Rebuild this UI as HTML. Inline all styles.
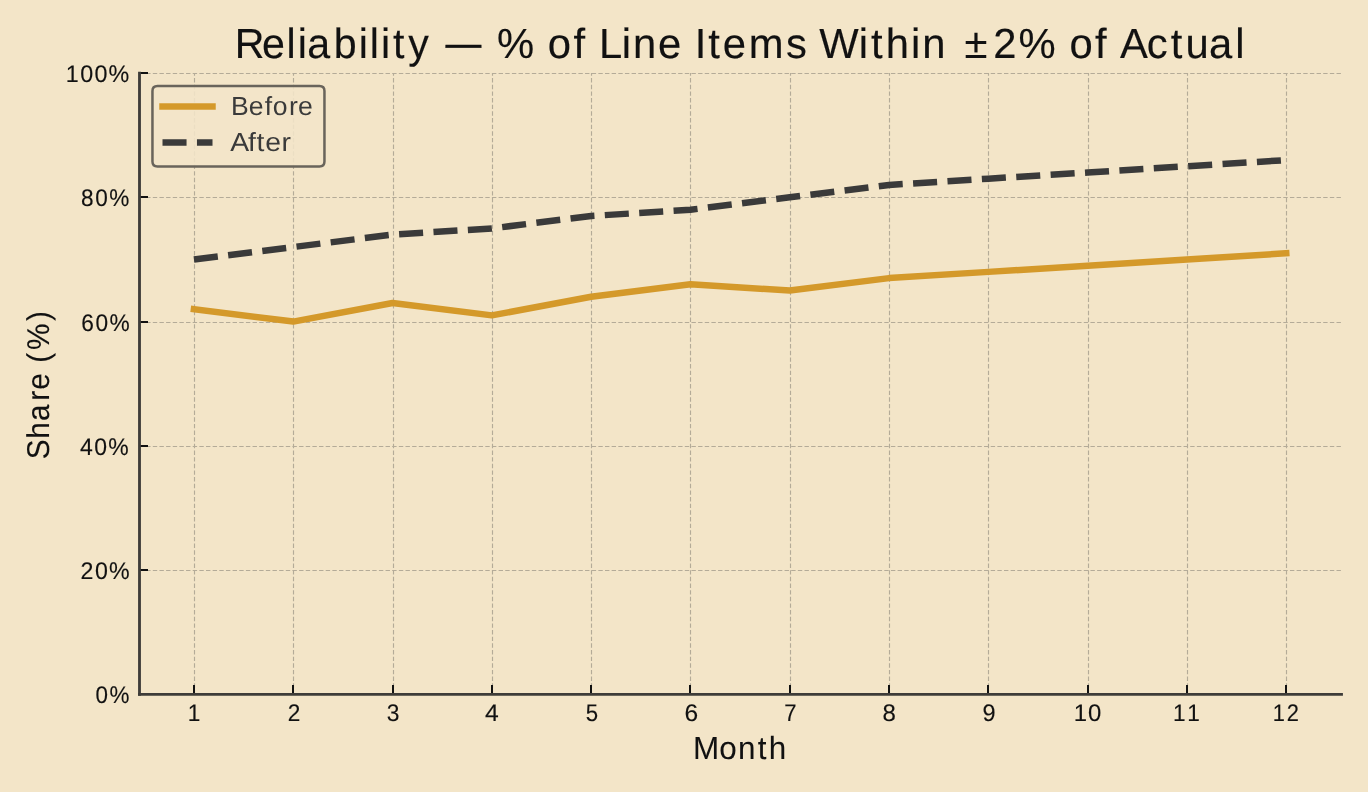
<!DOCTYPE html>
<html lang="en"><head><meta charset="utf-8"><title>Reliability — % of Line Items Within ±2% of Actual</title>
<style>
html,body{margin:0;padding:0;background:#f3e5c8;}
body{width:1368px;height:792px;overflow:hidden;position:relative;font-family:"Liberation Sans",sans-serif;}
svg{display:block;position:absolute;left:0;top:0;will-change:transform;}
text{font-family:"Liberation Sans",sans-serif;white-space:pre;text-rendering:geometricPrecision;}
</style></head><body>
<svg width="1368" height="792" viewBox="0 0 1368 792" role="img" aria-label="Reliability line chart">
<g id="grid" stroke="#b4ab98" stroke-width="1.15" stroke-dasharray="4.4 2.25" fill="none">
<line x1="194.5" y1="694.3" x2="194.5" y2="73.1"/>
<line x1="293.5" y1="694.3" x2="293.5" y2="73.1"/>
<line x1="393.5" y1="694.3" x2="393.5" y2="73.1"/>
<line x1="492.5" y1="694.3" x2="492.5" y2="73.1"/>
<line x1="591.5" y1="694.3" x2="591.5" y2="73.1"/>
<line x1="690.5" y1="694.3" x2="690.5" y2="73.1"/>
<line x1="790.5" y1="694.3" x2="790.5" y2="73.1"/>
<line x1="889.5" y1="694.3" x2="889.5" y2="73.1"/>
<line x1="988.5" y1="694.3" x2="988.5" y2="73.1"/>
<line x1="1088.5" y1="694.3" x2="1088.5" y2="73.1"/>
<line x1="1187.5" y1="694.3" x2="1187.5" y2="73.1"/>
<line x1="1286.5" y1="694.3" x2="1286.5" y2="73.1"/>
<line x1="139.5" y1="694.5" x2="1340.9" y2="694.5"/>
<line x1="139.5" y1="570.5" x2="1340.9" y2="570.5"/>
<line x1="139.5" y1="446.5" x2="1340.9" y2="446.5"/>
<line x1="139.5" y1="322.5" x2="1340.9" y2="322.5"/>
<line x1="139.5" y1="197.5" x2="1340.9" y2="197.5"/>
<line x1="139.5" y1="73.5" x2="1340.9" y2="73.5"/>
</g>
<polyline id="series-before" points="193.95,309.16 293.25,321.58 392.55,302.94 491.85,315.37 591.15,296.73 690.45,284.31 789.75,290.52 889.05,278.10 988.35,271.88 1087.65,265.67 1186.95,259.46 1286.25,253.25" fill="none" stroke="#d4992a" stroke-width="6.5" stroke-linecap="square" stroke-linejoin="round"/>
<polyline id="series-after" points="193.95,259.46 293.25,247.04 392.55,234.61 491.85,228.40 591.15,215.98 690.45,209.76 789.75,197.34 889.05,184.92 988.35,178.70 1087.65,172.49 1186.95,166.28 1286.25,160.07" fill="none" stroke="#3a3a3a" stroke-width="6.5" stroke-linecap="butt" stroke-linejoin="round" stroke-dasharray="24.05 10.4"/>
<g id="ticks" stroke="#111111" stroke-width="2" fill="none">
<line x1="194.0" y1="694.3" x2="194.0" y2="685.0"/>
<line x1="293.0" y1="694.3" x2="293.0" y2="685.0"/>
<line x1="393.0" y1="694.3" x2="393.0" y2="685.0"/>
<line x1="492.0" y1="694.3" x2="492.0" y2="685.0"/>
<line x1="591.0" y1="694.3" x2="591.0" y2="685.0"/>
<line x1="690.0" y1="694.3" x2="690.0" y2="685.0"/>
<line x1="790.0" y1="694.3" x2="790.0" y2="685.0"/>
<line x1="889.0" y1="694.3" x2="889.0" y2="685.0"/>
<line x1="988.0" y1="694.3" x2="988.0" y2="685.0"/>
<line x1="1088.0" y1="694.3" x2="1088.0" y2="685.0"/>
<line x1="1187.0" y1="694.3" x2="1187.0" y2="685.0"/>
<line x1="1286.0" y1="694.3" x2="1286.0" y2="685.0"/>
<line x1="139.5" y1="694.0" x2="148.0" y2="694.0"/>
<line x1="139.5" y1="570.0" x2="148.0" y2="570.0"/>
<line x1="139.5" y1="446.0" x2="148.0" y2="446.0"/>
<line x1="139.5" y1="322.0" x2="148.0" y2="322.0"/>
<line x1="139.5" y1="197.0" x2="148.0" y2="197.0"/>
<line x1="139.5" y1="73.0" x2="148.0" y2="73.0"/>
</g>
<g id="spines" stroke="#3e3c39" stroke-width="2.85" stroke-linecap="square" fill="none">
<line x1="139.5" y1="694.3" x2="139.5" y2="73.1"/>
<line x1="139.5" y1="694.3" x2="1341.5" y2="694.3"/>
</g>
<g id="legend">
<path d="M157.45 86.10L319.45 86.10Q324.45 86.10 324.45 91.10L324.45 161.50Q324.45 166.50 319.45 166.50L157.45 166.50Q152.45 166.50 152.45 161.50L152.45 91.10Q152.45 86.10 157.45 86.10Z" fill="#f3e5c8" fill-opacity="0.88" stroke="#69645b" stroke-width="2.5"/>
<line x1="162.5" y1="106.5" x2="212.5" y2="106.5" stroke="#d4992a" stroke-width="6.5" stroke-linecap="square"/>
<line x1="162.5" y1="142.4" x2="212.5" y2="142.4" stroke="#3a3a3a" stroke-width="6.5" stroke-dasharray="24.05 10.4"/>
</g>
<g id="title">
<text transform="translate(234.95 57.50) scale(0.9754 1)" x="-0.34 27.65 52.93 64.34 74.01 101.39 126.9 138.28 149.69 162.13 177.7" font-size="42.20" fill="#111111" stroke="#111111" stroke-width="0.15">Reliability</text>
<text x="445.65" y="56.50" font-size="41.78" fill="#111111" stroke="#111111" stroke-width="0.60" textLength="35.40" lengthAdjust="spacingAndGlyphs">—</text>
<text transform="translate(495.80 57.50) scale(0.9898 1)" x="1.17 39.16 52.62 78.49 90.95 104.15 127.24 138.68 163.91 188.01 200.94 214.72 229.38 255.67 293.1 313.9 326.78 366.75 378.99 393.97 419.43 430.87 455.34 473.51 502.61 528.17 566.15 579.62 605.49 617.95 630.52 657.74 681.85 696.71 720.47 747.03" font-size="42.20" fill="#111111" stroke="#111111" stroke-width="0.15">% of Line Items Within ±2% of Actual</text>
</g>
<g id="xlabel">
<text transform="translate(693.05 758.70) scale(0.9827 1)" x="-0.15 26.79 45.86 65.83 77.13" font-size="32.03" fill="#111111" stroke="#111111" stroke-width="0.06">Month</text>
</g>
<g id="ylabel">
<text transform="translate(48.70 458.98) rotate(-90) scale(0.9445 1)" x="-0.25 21.49 40.1 61.69 73.22 91.69 101.94 115.27 146.1" font-size="31.50" fill="#111111" stroke="#111111" stroke-width="0.10">Share (%)</text>
</g>
<g id="legend-labels">
<text transform="translate(231.55 114.55) scale(1.0153 1)" x="-0.61 16.97 32.8 40.69 56.68 65.48" font-size="26.20" fill="#3a3a3a">Before</text>
<text transform="translate(231.80 150.55) scale(1.0819 1)" x="-1.54 15.01 22.79 30.89 46.02" font-size="26.20" fill="#3a3a3a">After</text>
</g>
<g id="xticklabels">
<text transform="translate(186.53 720.55) scale(0.9441 1)" x="1.32" font-size="24.00" fill="#111111" stroke="#111111" stroke-width="0.15">1</text>
<text transform="translate(286.97 720.55) scale(0.9419 1)" x="0.88" font-size="24.00" fill="#111111" stroke="#111111" stroke-width="0.15">2</text>
<text transform="translate(385.97 720.55) scale(0.9492 1)" x="0.89" font-size="24.00" fill="#111111" stroke="#111111" stroke-width="0.15">3</text>
<text transform="translate(484.91 720.55) scale(1.0279 1)" x="0.04" font-size="24.00" fill="#111111" stroke="#111111" stroke-width="0.15">4</text>
<text transform="translate(584.95 720.55) scale(0.9234 1)" x="0.97" font-size="24.00" fill="#111111" stroke="#111111" stroke-width="0.15">5</text>
<text transform="translate(684.06 720.55) scale(1.0226 1)" x="0.32" font-size="24.00" fill="#111111" stroke="#111111" stroke-width="0.15">6</text>
<text transform="translate(783.03 720.55) scale(0.9187 1)" x="1.33" font-size="24.00" fill="#111111" stroke="#111111" stroke-width="0.15">7</text>
<text transform="translate(882.00 720.55) scale(0.9986 1)" x="0.49" font-size="24.00" fill="#111111" stroke="#111111" stroke-width="0.15">8</text>
<text transform="translate(981.58 720.55) scale(0.9789 1)" x="1.07" font-size="24.00" fill="#111111" stroke="#111111" stroke-width="0.15">9</text>
<text transform="translate(1073.53 720.55) scale(0.9964 1)" x="0.13 14.63" font-size="24.00" fill="#111111" stroke="#111111" stroke-width="0.15">10</text>
<text transform="translate(1172.53 720.55) scale(0.9426 1)" x="0.53 15.72" font-size="24.00" fill="#111111" stroke="#111111" stroke-width="0.15">11</text>
<text transform="translate(1271.53 720.55) scale(0.9100 1)" x="1.35 16.87" font-size="24.00" fill="#111111" stroke="#111111" stroke-width="0.15">12</text>
</g>
<g id="yticklabels">
<text transform="translate(95.02 702.55) scale(0.9335 1)" x="0.46 15.59" font-size="24.00" fill="#111111" stroke="#111111" stroke-width="0.15">0%</text>
<text transform="translate(80.97 578.55) scale(0.9669 1)" x="-0.61 14.5 28.97" font-size="24.00" fill="#111111" stroke="#111111" stroke-width="0.15">20%</text>
<text transform="translate(79.91 454.55) scale(0.9573 1)" x="0.01 14.97 29.62" font-size="24.00" fill="#111111" stroke="#111111" stroke-width="0.15">40%</text>
<text transform="translate(81.06 330.55) scale(0.9461 1)" x="0.1 15.23 30.1" font-size="24.00" fill="#111111" stroke="#111111" stroke-width="0.15">60%</text>
<text transform="translate(81.00 205.55) scale(0.9402 1)" x="-0.13 15.1 30.09" font-size="24.00" fill="#111111" stroke="#111111" stroke-width="0.15">80%</text>
<text transform="translate(65.53 81.55) scale(0.9705 1)" x="0.32 15.2 29.95 44.34" font-size="24.00" fill="#111111" stroke="#111111" stroke-width="0.15">100%</text>
</g>
</svg></body></html>
